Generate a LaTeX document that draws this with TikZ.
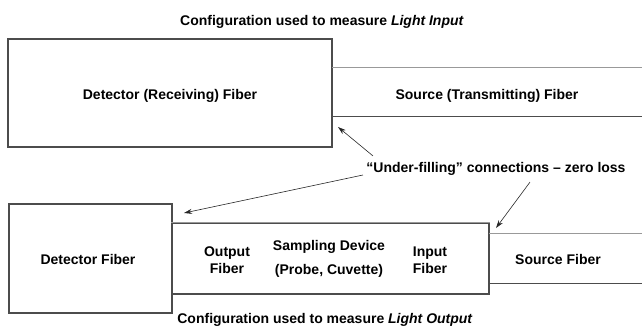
\documentclass[tikz,border=0pt]{standalone}
\usepackage{fontspec}
\setmainfont{Liberation Sans}
\usetikzlibrary{positioning}
\usetikzlibrary{arrows.meta}

\begin{document}
\begin{tikzpicture}[x=1pt, y=-1pt,
	font=\fontsize{14}{16.5}\selectfont\bfseries,
	fiber/.style={rectangle, draw=black!70, line width=1.2pt, inner sep=0pt},
	openfiber/.style={rectangle, inner sep=0pt},
	darkedge/.style={draw=black!70, line width=1.2pt},
	lightedge/.style={draw=black!40, line width=1.2pt},
	lead/.style={-{Stealth[length=8pt,width=5pt]}, line width=0.6pt, black!85}]

		\useasboundingbox (0,0) rectangle (642,332);

		% light input
		\node(topTitle) at (322,21.5){Configuration used to measure \textit{Light Input}};
		\node[fiber, minimum width=324pt, minimum height=108pt](detIn) at (170,93){};
		\node[openfiber, minimum width=310pt, minimum height=48pt](srcIn) at (487,92){};
		\node(detInTxt) at (170,95.5){Detector (Receiving) Fiber};
		\node(srcInTxt) at (487,95.5){Source (Transmitting) Fiber};
		\draw[lightedge] (srcIn.north west) -- (srcIn.north east);
		\draw[darkedge] (srcIn.south west) -- (srcIn.south east);

		% light output
		\node[fiber, minimum width=163pt, minimum height=109pt](detOut) at (90.5,258.5){};
		\node[fiber, minimum width=317pt, minimum height=71pt](sampler) at (330.5,258.5){};
		\node[openfiber, minimum width=153pt, minimum height=49pt](srcOut) at (565.5,258.5){};
		\draw[lightedge] (sampler.north west) -- (sampler.north east);
		\draw[lightedge] (srcOut.north west) -- (srcOut.north east);
		\draw[darkedge] (srcOut.south west) -- (srcOut.south east);

		\node(detOutTxt) at (88,259){Detector Fiber};
		\node[align=center](outFib) at (227,260){Output\\Fiber};
		\node[align=center](sampTxt) at (329,259){Sampling Device\\[8pt](Probe, Cuvette)};
		\node[align=center](inFib) at (430,260){Input\\Fiber};
		\node(srcOutTxt) at (558,259){Source Fiber};
		\node(botTitle) at (325,319.5){Configuration used to measure \textit{Light Output}};

		% connections
		\node(lossLbl) at (496,169){``Under-filling'' connections -- zero loss};
		\coordinate(tipA) at (338,127);
		\coordinate(tipB) at (184,213);
		\coordinate(tipC) at (496,228);

		\draw [lead] ([xshift=10pt,yshift=3pt]lossLbl.north west) -- (tipA);
		\draw [lead] ([yshift=-6pt]lossLbl.west) -- (tipB);
		\draw [lead] ([xshift=34pt,yshift=-3pt]lossLbl.south) -- (tipC);

	\end{tikzpicture}
\end{document}
